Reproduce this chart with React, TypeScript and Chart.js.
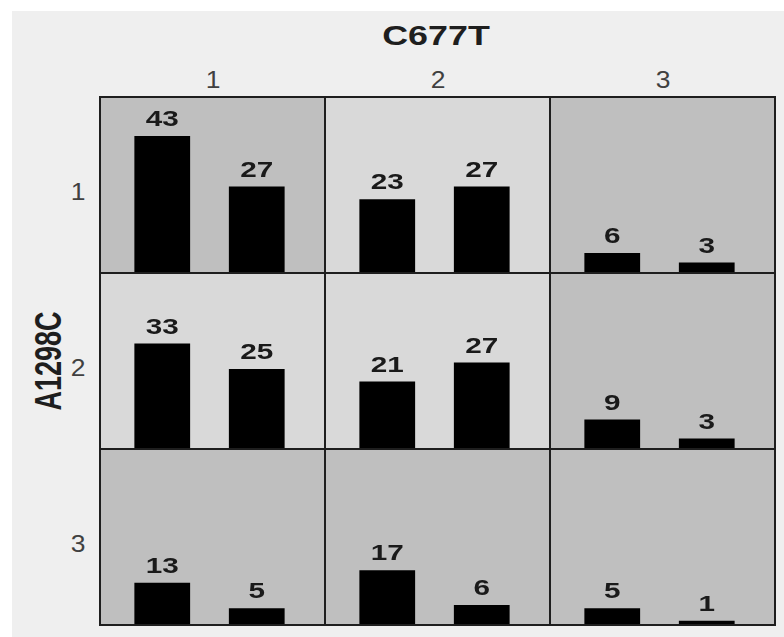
import React, { useEffect, useRef } from 'react';
import { Chart, registerables } from 'chart.js';

Chart.register(...registerables);

// ---- data ----
const columnTitle = 'C677T';
const rowTitle = 'A1298C';
const columnCategories = ['1', '2', '3'];
const rowCategories = ['1', '2', '3'];
const barGroups = ['1', '2'];
const row1Counts = [[43, 27], [23, 27], [6, 3]];
const row2Counts = [[33, 25], [21, 27], [9, 3]];
const row3Counts = [[13, 5], [17, 6], [5, 1]];
const row1Shades = ['dark', 'light', 'dark'];
const row2Shades = ['light', 'light', 'dark'];
const row3Shades = ['dark', 'dark', 'dark'];
const yMax = 55;

const allCounts = [row1Counts, row2Counts, row3Counts];
const allShades = [row1Shades, row2Shades, row3Shades];

const SHADE_COLORS: Record<string, string> = { dark: '#bfbfbf', light: '#d9d9d9' };
const FONT = '"Liberation Sans", Arial, Helvetica, sans-serif';

const GRID_LEFT = 100;
const GRID_TOP = 97;
const CELL_W = 225;
const CELL_H = 176;
const BORDER = 2;

const valueLabelPlugin = {
  id: 'valueLabels',
  afterDatasetsDraw(chart: any) {
    const ctx = chart.ctx;
    const meta = chart.getDatasetMeta(0);
    const data = chart.data.datasets[0].data;
    meta.data.forEach((bar: any, i: number) => {
      ctx.save();
      ctx.translate(bar.x, bar.y - 10);
      ctx.scale(1.35, 1);
      ctx.font = `bold 22px ${FONT}`;
      ctx.textAlign = 'center';
      ctx.textBaseline = 'alphabetic';
      ctx.fillStyle = '#1a1a1a';
      ctx.fillText(String(data[i]), 0, 0);
      ctx.restore();
    });
  },
};

function Panel({ values, shade, left, top }: { values: number[]; shade: string; left: number; top: number }) {
  const ref = useRef<HTMLCanvasElement | null>(null);
  useEffect(() => {
    if (!ref.current) return;
    const chart = new Chart(ref.current, {
      type: 'bar',
      data: {
        labels: barGroups,
        datasets: [
          {
            data: values,
            backgroundColor: '#000000',
            borderWidth: 0,
            barPercentage: 0.59,
            categoryPercentage: 1,
          },
        ],
      },
      options: {
        animation: false,
        responsive: false,
        maintainAspectRatio: false,
        events: [],
        layout: { padding: { left: 14, right: 20, top: 0, bottom: 0 } },
        plugins: { legend: { display: false }, tooltip: { enabled: false } },
        scales: {
          x: { display: false },
          y: { display: false, min: 0, max: yMax },
        },
      },
      plugins: [valueLabelPlugin],
    } as any);
    return () => chart.destroy();
  }, [values]);
  return (
    <div
      style={{
        position: 'absolute',
        left,
        top,
        width: CELL_W + BORDER,
        height: CELL_H + BORDER,
        boxSizing: 'border-box',
        border: `${BORDER}px solid #1e1e1e`,
        background: SHADE_COLORS[shade],
      }}
    >
      <canvas
        ref={ref}
        width={CELL_W - BORDER}
        height={CELL_H - BORDER}
        style={{ display: 'block', width: CELL_W - BORDER, height: CELL_H - BORDER }}
      />
    </div>
  );
}

function Label({ text, x, y, size, bold, sx, rotate, color }: any) {
  return (
    <div
      style={{
        position: 'absolute',
        left: x,
        top: y,
        transform: `translate(-50%, -50%) scaleX(${sx})${rotate ? ' rotate(-90deg)' : ''}`,
        fontFamily: FONT,
        fontSize: size,
        fontWeight: bold ? 'bold' : 'normal',
        lineHeight: 1,
        whiteSpace: 'nowrap',
        color,
      }}
    >
      {text}
    </div>
  );
}

export default function App() {
  const panels: React.ReactNode[] = [];
  allCounts.forEach((row, r) => {
    row.forEach((vals, c) => {
      panels.push(
        <Panel
          key={`${r}-${c}`}
          values={vals}
          shade={allShades[r][c]}
          left={GRID_LEFT + CELL_W * c - 1}
          top={GRID_TOP + CELL_H * r - 1}
        />
      );
    });
  });
  return (
    <div style={{ position: 'fixed', left: 0, top: 0, width: 784, height: 637, background: '#ffffff', overflow: 'hidden' }}>
      <div style={{ position: 'absolute', left: 12, top: 11, right: 0, bottom: 0, background: '#efefef' }} />
      <Label text={columnTitle} x={436} y={36} size={28} bold sx={1.28} color="#1e1e1e" />
      <Label text={rowTitle} x={50} y={361} size={27} bold sx={1.35} rotate color="#1e1e1e" />
      {columnCategories.map((t, i) => (
        <Label key={'c' + i} text={t} x={GRID_LEFT + CELL_W * i + CELL_W / 2} y={80} size={23} sx={1.15} color="#404040" />
      ))}
      {rowCategories.map((t, i) => (
        <Label key={'r' + i} text={t} x={78} y={GRID_TOP + CELL_H * i + CELL_H / 2 + 7} size={23} sx={1.15} color="#404040" />
      ))}
      {panels}
    </div>
  );
}
